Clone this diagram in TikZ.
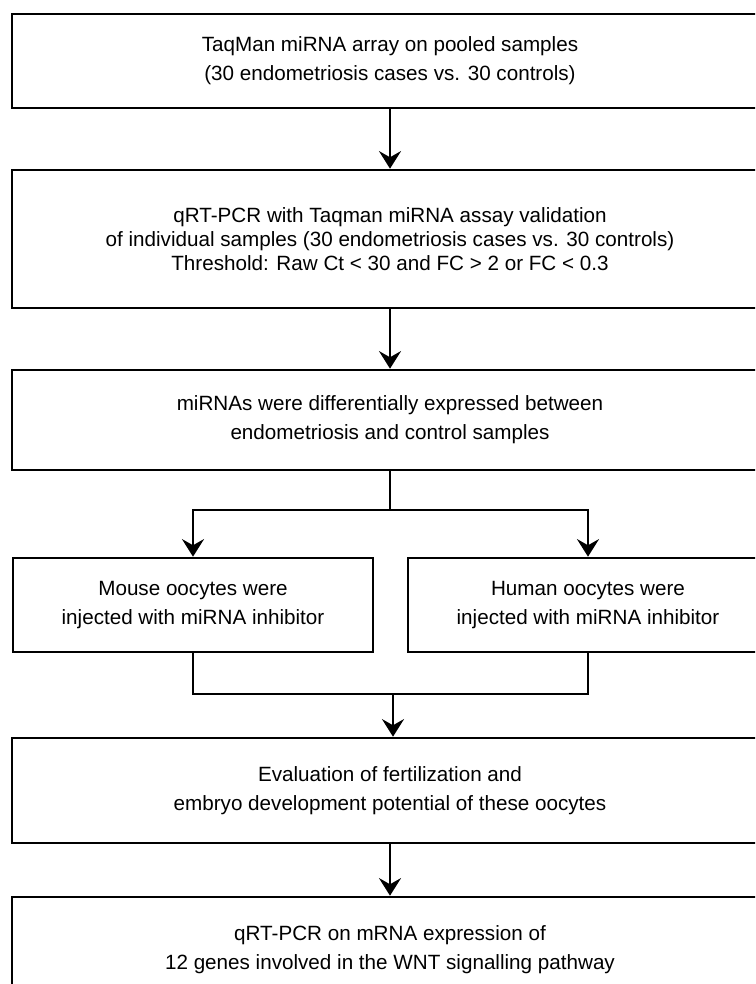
\documentclass[tikz,border=0pt]{standalone}
\usepackage{fontspec}
\setmainfont{Liberation Sans}
\usetikzlibrary{arrows.meta,positioning}
\tikzset{%
	stepbox/.style = {draw, rectangle, line width=1.5pt, text centered, align=center, font=\fontsize{11.75}{16.5}\selectfont},
	widebox/.style = {stepbox, minimum width=15.12cm},
	halfbox/.style = {stepbox, minimum width=7.2cm, minimum height=1.88cm},
	link/.style    = {line width=1.5pt},
	flow/.style    = {line width=1.5pt,-{Stealth[length=10pt,width=12.5pt,inset=3.5pt]}},
}

\begin{document}
\begin{tikzpicture}[x=0.02cm,y=-0.02cm]
	\useasboundingbox (0,0) rectangle (755,984);
	\clip (0,0) rectangle (755,984);
	\node[widebox, minimum height=1.88cm] (taqman) at (390,61) {TaqMan miRNA array on pooled samples\\(30 endometriosis cases vs. 30 controls)};
	\node[widebox, minimum height=2.76cm, font=\fontsize{11.75}{13.6}\selectfont] (qrtpcr) at (390,239) {qRT-PCR with Taqman miRNA assay validation\\of individual samples (30 endometriosis cases vs. 30 controls)\\Threshold: Raw Ct < 30 and FC > 2 or FC < 0.3};
	\node[widebox, minimum height=2cm] (mirnas) at (390,420) {miRNAs were differentially expressed between\\endometriosis and control samples};
	\node[halfbox] (mouse) at (193,605) {Mouse oocytes were\\injected with miRNA inhibitor};
	\node[halfbox] (human) at (588,605) {Human oocytes were\\injected with miRNA inhibitor};
	\node[widebox, minimum height=2.1cm] (evaluation) at (390,790.5) {Evaluation of fertilization and\\embryo development potential of these oocytes};
	\node[widebox, minimum height=2.1cm] (genes) at (390,949.5) {qRT-PCR on mRNA expression of\\12 genes involved in the WNT signalling pathway};
	\coordinate (fork) at (390,510);
	\coordinate (join) at (393,694);
	\draw[flow] (taqman) -- (qrtpcr);
	\draw[flow] (qrtpcr) -- (mirnas);
	\draw[link] (mirnas) -- (fork);
	\draw[flow] (fork) -| (mouse);
	\draw[flow] (fork) -| (human);
	\draw[link] (mouse.south) |- (join) -| (human.south);
	\draw[flow] (join) -- (join |- evaluation.north);
	\draw[flow] (evaluation) -- (genes);
\end{tikzpicture}
\end{document}
